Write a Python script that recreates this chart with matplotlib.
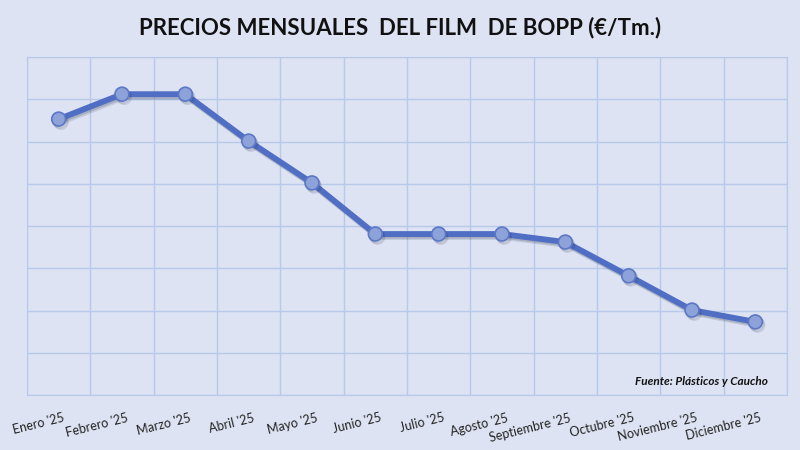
import matplotlib.pyplot as plt
import matplotlib.patheffects as pe
import matplotlib.transforms as mtransforms
from matplotlib.ticker import MultipleLocator

# (no y axis shown, units = grid steps)
meses = ["Enero '25", "Febrero '25", "Marzo '25", "Abril '25", "Mayo '25", "Junio '25",
         "Julio '25", "Agosto '25", "Septiembre '25", "Octubre '25", "Noviembre '25",
         "Diciembre '25"]
precios = [6.53, 7.12, 7.12, 6.01, 5.02, 3.81, 3.81, 3.81, 3.62, 2.82, 2.01, 1.73]

BG = "#dde3f3"
GRID = "#b8c8ea"
LINE = "#4f6ec4"

plt.rcParams["font.family"] = ["Lato", "DejaVu Sans"]

fig = plt.figure(figsize=(8, 4.5), dpi=100, facecolor=BG)
ax = fig.add_axes([0.03375, 0.1222, 0.95, 0.7511], facecolor=BG)

x = list(range(len(meses)))
# soft shadow: a few faint offset copies
shadow = [pe.SimpleLineShadow(offset=(0.8, -1.2), shadow_color="#26324a", alpha=0.18),
          pe.SimpleLineShadow(offset=(1.6, -2.2), shadow_color="#26324a", alpha=0.14),
          pe.Normal()]
ax.plot(x, precios, color=LINE, lw=4.2, solid_capstyle="round", zorder=3,
        path_effects=shadow)
ax.plot(x, precios, ls="none", marker="o", ms=10, mfc="#8ea2da", mec="#5b77c6",
        mew=1.2, zorder=4, path_effects=shadow)

ax.set_xlim(-0.5, len(meses) - 0.5)
ax.set_ylim(0, 8)
ax.yaxis.set_major_locator(MultipleLocator(1))
ax.set_xticks([i - 0.5 for i in range(len(meses) + 1)], minor=False)
ax.set_xticklabels([])
ax.set_xticks(x, minor=True)
ax.set_xticklabels(meses, minor=True, rotation=14, ha="right", rotation_mode="anchor",
                   fontsize=9, color="#222222")
ax.tick_params(axis="x", which="both", length=0, pad=12)
ax.tick_params(axis="y", length=0, labelleft=False)
ax.grid(True, which="major", color=GRID, lw=1)
ax.set_axisbelow(True)
for s in ax.spines.values():
    s.set_color(GRID)

# shift labels so their right end sits near the category point
off = mtransforms.ScaledTranslation(3 / 72, 0, fig.dpi_scale_trans)
for lbl in ax.get_xticklabels(minor=True):
    lbl.set_transform(lbl.get_transform() + off)

fig.text(0.5, 0.938, "PRECIOS MENSUALES  DEL FILM  DE BOPP (€/Tm.)", ha="center", va="center",
         fontsize=16, fontweight="bold", color="#111111")
ax.text(0.975, 0.04, "Fuente: Plásticos y Caucho", transform=ax.transAxes, ha="right",
        va="center", fontsize=8.5, fontweight="bold", fontstyle="italic", color="#111111")

fig.savefig("out.png", dpi=100, facecolor=BG)
